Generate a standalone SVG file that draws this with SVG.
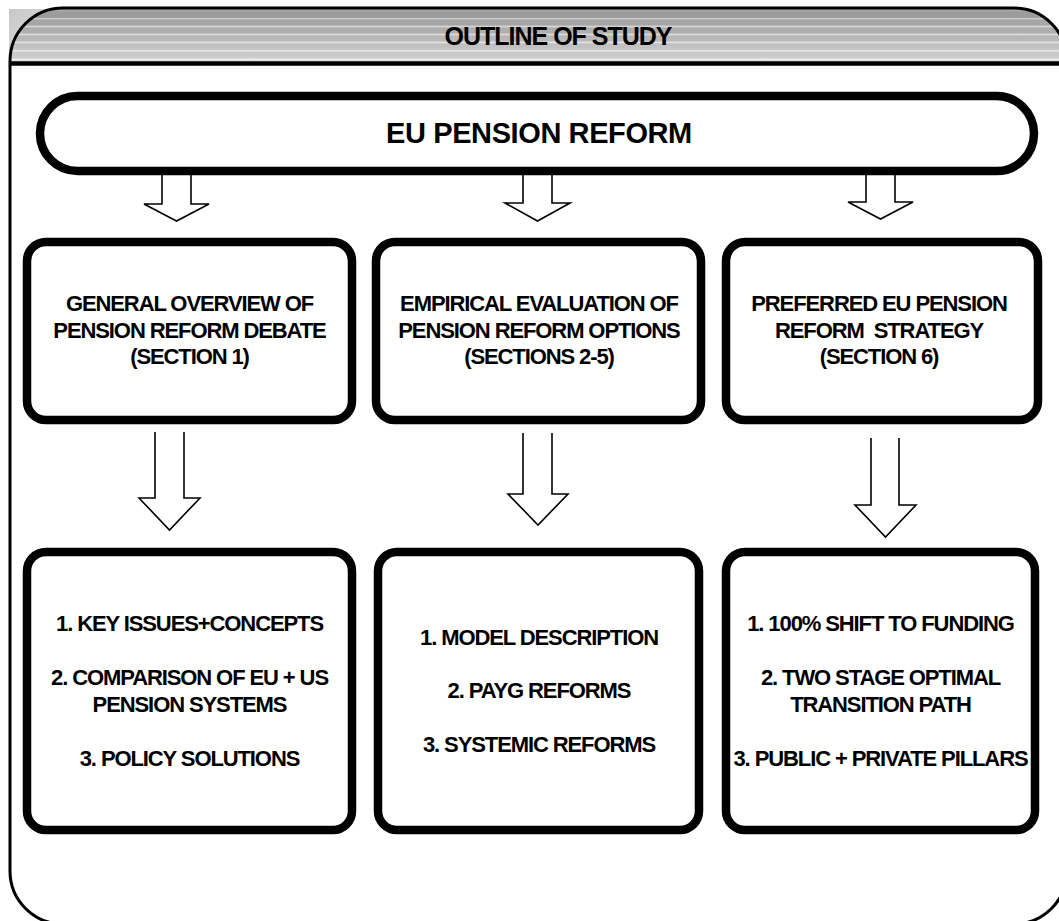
<svg xmlns="http://www.w3.org/2000/svg" width="1059" height="921" viewBox="0 0 1059 921">
<defs>
<linearGradient id="stripes" x1="0" y1="9" x2="0" y2="62" gradientUnits="userSpaceOnUse">
<stop offset="0" stop-color="#b4b4b4"/>
<stop offset="0.06" stop-color="#9c9c9c"/>
<stop offset="0.16" stop-color="#9c9c9c"/>
<stop offset="0.18" stop-color="#cfcfcf"/>
<stop offset="0.21" stop-color="#a6a6a6"/>
<stop offset="0.30" stop-color="#a6a6a6"/>
<stop offset="0.33" stop-color="#d6d6d6"/>
<stop offset="0.36" stop-color="#adadad"/>
<stop offset="0.45" stop-color="#b0b0b0"/>
<stop offset="0.48" stop-color="#dddddd"/>
<stop offset="0.51" stop-color="#b6b6b6"/>
<stop offset="0.60" stop-color="#bababa"/>
<stop offset="0.63" stop-color="#e4e4e4"/>
<stop offset="0.66" stop-color="#c0c0c0"/>
<stop offset="0.76" stop-color="#c4c4c4"/>
<stop offset="0.79" stop-color="#ececec"/>
<stop offset="0.82" stop-color="#c8c8c8"/>
<stop offset="0.92" stop-color="#cccccc"/>
<stop offset="0.95" stop-color="#f0f0f0"/>
<stop offset="1" stop-color="#d0d0d0"/>
</linearGradient>
<linearGradient id="corner" x1="0" y1="0" x2="1" y2="1">
<stop offset="0" stop-color="#c8c8c8"/>
<stop offset="1" stop-color="#e6e6e6"/>
</linearGradient>
</defs>
<style>
.frame{fill:none;stroke:#000;stroke-width:3}
.box{fill:#fff;stroke:#000;stroke-width:8.5}
.arrow{fill:#fff;stroke:#000;stroke-width:1.6;stroke-linejoin:miter}
.t{font-family:"Liberation Sans",Arial,sans-serif;font-weight:bold;fill:#000;text-anchor:middle}
.body{font-size:22px;letter-spacing:-1.1px}
</style>
<rect width="1059" height="921" fill="#fff"/>
<g id="frame">
<rect x="9" y="9" width="60" height="54" fill="url(#corner)"/>
<path d="M10,63 V61 A53,53 0 0 1 63,8 H1014 A53,53 0 0 1 1067,61 V63 Z" fill="url(#stripes)"/>
<rect class="frame" x="10" y="8" width="1057" height="916" rx="53" ry="53"/>
<line x1="10" y1="63.5" x2="1067" y2="63.5" stroke="#000" stroke-width="4.5"/>
<text class="t" x="558" y="45" font-size="25" letter-spacing="-1">OUTLINE OF STUDY</text>
</g>
<g id="connectors">
<polyline class="arrow" points="162,172 162,204 144,204 176.5,221 209,204 191,204 191,172"/>
<polyline class="arrow" points="523,172 523,203 505,203 537.5,221 570,203 552,203 552,172"/>
<polyline class="arrow" points="866,172 866,202 848,202 880.5,219 913,202 895,202 895,172"/>
<polyline class="arrow" points="155,432 155,498 139,498 169.5,530 200,498 184,498 184,432"/>
<polyline class="arrow" points="523,433 523,494 508,494 538,525 568,494 552,494 552,433"/>
<polyline class="arrow" points="871,438 871,505 855,505 885.5,537 916,505 899,505 899,438"/>
</g>
<g id="eu-pension-reform">
<rect class="box" x="40" y="96" width="994" height="75" rx="37.5" ry="37.5"/>
<text class="t" x="539" y="143" font-size="29" letter-spacing="-0.4">EU PENSION REFORM</text>
</g>
<g id="general-overview">
<rect class="box" x="27" y="242" width="325" height="178" rx="19" ry="19"/>
<text class="t body" x="189.5" y="311">GENERAL OVERVIEW OF</text>
<text class="t body" x="189.5" y="338">PENSION REFORM DEBATE</text>
<text class="t body" x="189.5" y="364">(SECTION 1)</text>
</g>
<g id="empirical-evaluation">
<rect class="box" x="376" y="242" width="325" height="178" rx="19" ry="19"/>
<text class="t body" x="539" y="311">EMPIRICAL EVALUATION OF</text>
<text class="t body" x="539" y="338">PENSION REFORM OPTIONS</text>
<text class="t body" x="539" y="364">(SECTIONS 2-5)</text>
</g>
<g id="preferred-strategy">
<rect class="box" x="726" y="242" width="312" height="178" rx="19" ry="19"/>
<text class="t body" x="879" y="311">PREFERRED EU PENSION</text>
<text class="t body" x="879" y="338" xml:space="preserve">REFORM  STRATEGY</text>
<text class="t body" x="879" y="364">(SECTION 6)</text>
</g>
<g id="section1-topics">
<rect class="box" x="27" y="552" width="325" height="278" rx="19" ry="19"/>
<text class="t body" x="189.5" y="631">1. KEY ISSUES+CONCEPTS</text>
<text class="t body" x="189.5" y="685">2. COMPARISON OF EU + US</text>
<text class="t body" x="189.5" y="712">PENSION SYSTEMS</text>
<text class="t body" x="189.5" y="766">3. POLICY SOLUTIONS</text>
</g>
<g id="sections2-5-topics">
<rect class="box" x="378" y="552" width="321" height="278" rx="19" ry="19"/>
<text class="t body" x="539" y="645">1. MODEL DESCRIPTION</text>
<text class="t body" x="539" y="698">2. PAYG REFORMS</text>
<text class="t body" x="539" y="752">3. SYSTEMIC REFORMS</text>
</g>
<g id="section6-topics">
<rect class="box" x="726" y="552" width="309" height="278" rx="19" ry="19"/>
<text class="t body" x="880.5" y="631">1. 100% SHIFT TO FUNDING</text>
<text class="t body" x="880.5" y="685">2. TWO STAGE OPTIMAL</text>
<text class="t body" x="880.5" y="712">TRANSITION PATH</text>
<text class="t body" x="880.5" y="766">3. PUBLIC + PRIVATE PILLARS</text>
</g>
</svg>
